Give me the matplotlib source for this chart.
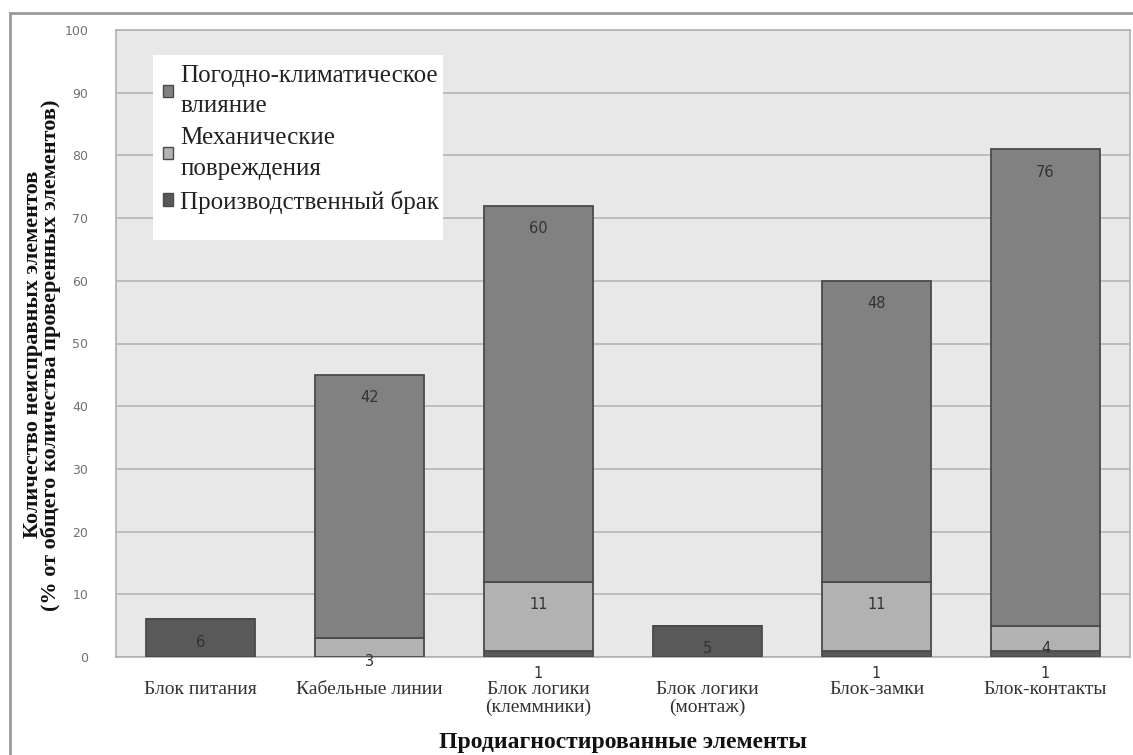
import numpy as np
import matplotlib.pyplot as plt
from matplotlib.lines import Line2D
from matplotlib.patches import Patch, Rectangle

# Данные диаграммы
categories = ["Блок питания", "Кабельные линии", "Блок логики\n(клеммники)",
              "Блок логики\n(монтаж)", "Блок-замки", "Блок-контакты"]
defect = [6, 0, 1, 5, 1, 1]          # Производственный брак
mechanical = [0, 3, 11, 0, 11, 4]    # Механические повреждения
weather = [0, 42, 60, 0, 48, 76]     # Погодно-климатическое влияние
yticks = [0, 10, 20, 30, 40, 50, 60, 70, 80, 90, 100]

c_weather = "#808180"
c_mech = "#b2b2b2"
c_defect = "#595959"
edge = "#4a4a4a"
serif = ["Liberation Serif", "DejaVu Serif"]

fig = plt.figure(figsize=(11.33, 7.55), dpi=100)
fig.patch.set_facecolor("white")
ax = fig.add_axes([116 / 1133, 98 / 755, 1014 / 1133, 627 / 755])
ax.set_facecolor("#e7e8e7")

x = np.arange(len(categories))
w = 0.645
d = np.array(defect)
m = np.array(mechanical)
g = np.array(weather)

ax.bar(x, d, w, color=c_defect, edgecolor=edge, linewidth=1.3, zorder=3)
ax.bar(x, m, w, bottom=d, color=c_mech, edgecolor=edge, linewidth=1.3, zorder=3)
ax.bar(x, g, w, bottom=d + m, color=c_weather, edgecolor=edge, linewidth=1.3, zorder=3)

# подписи значений: чуть ниже верхней границы сегмента
for vals, bottoms in [(d, np.zeros_like(d)), (m, d), (g, d + m)]:
    for xi, v, b in zip(x, vals, bottoms):
        if v == 0:
            continue
        ax.annotate(str(v), (xi, b + v), xytext=(0, -16.5), textcoords="offset points",
                    ha="center", va="center", fontsize=10.5, color="#333333",
                    family="DejaVu Sans", zorder=5)

ax.set_xlim(-0.5, len(categories) - 0.5)
ax.set_ylim(0, 100)
ax.set_yticks(yticks)
ax.set_xticks(x)
ax.set_xticklabels(categories, family=serif, fontsize=14, color="#333333",
                   linespacing=1.08)
ax.tick_params(axis="x", length=0, pad=17)
ax.tick_params(axis="y", length=0, pad=20, labelsize=9, labelcolor="#707070")
ax.grid(axis="y", color="#b5b5b5", linewidth=1.2, zorder=0)
for s in ax.spines.values():
    s.set_color("#b0b0b0")
    s.set_linewidth(1.2)

ax.set_xlabel("Продиагностированные элементы", family=serif, fontweight="bold",
              fontsize=17, color="#111111")
ax.xaxis.set_label_coords(0.5, -0.119)
ax.set_ylabel("Количество неисправных элементов\n(% от общего количества проверенных элементов)",
              family=serif, fontweight="bold", fontsize=16, linespacing=0.85,
              color="#111111")
ax.yaxis.set_label_coords(-0.054, 0.482)

# белая подложка легенды
ax.add_patch(Rectangle((37 / 1014, (657 - 240) / 627), 290 / 1014, 185 / 627,
                       transform=ax.transAxes, facecolor="white", edgecolor="none",
                       zorder=4))

handles = [Patch(facecolor=c_weather, edgecolor=edge),
           Patch(facecolor=c_mech, edgecolor=edge),
           Patch(facecolor=c_defect, edgecolor=edge)]
labels = ["Погодно-климатическое\nвлияние", "Механические\nповреждения",
          "Производственный брак"]
leg = ax.legend(handles, labels, loc="upper left",
                bbox_to_anchor=(37 / 1014, (657 - 55) / 627),
                prop={"family": serif, "size": 18}, frameon=False,
                handlelength=0.38, handleheight=0.38, handletextpad=0.32,
                labelspacing=0.4, borderpad=0.4, borderaxespad=0)
leg.set_zorder(6)
for t in leg.get_texts():
    t.set_color("#222222")
    t.set_linespacing(1.5)

# внешняя рамка диаграммы
fig.add_artist(Line2D([10 / 1133, 1.0], [1 - 13 / 755, 1 - 13 / 755],
                      transform=fig.transFigure, color="#9a9a9a", linewidth=2))
fig.add_artist(Line2D([10 / 1133, 10 / 1133], [0, 1 - 13 / 755],
                      transform=fig.transFigure, color="#9a9a9a", linewidth=2))

fig.savefig("out.png", dpi=100, facecolor="white")
